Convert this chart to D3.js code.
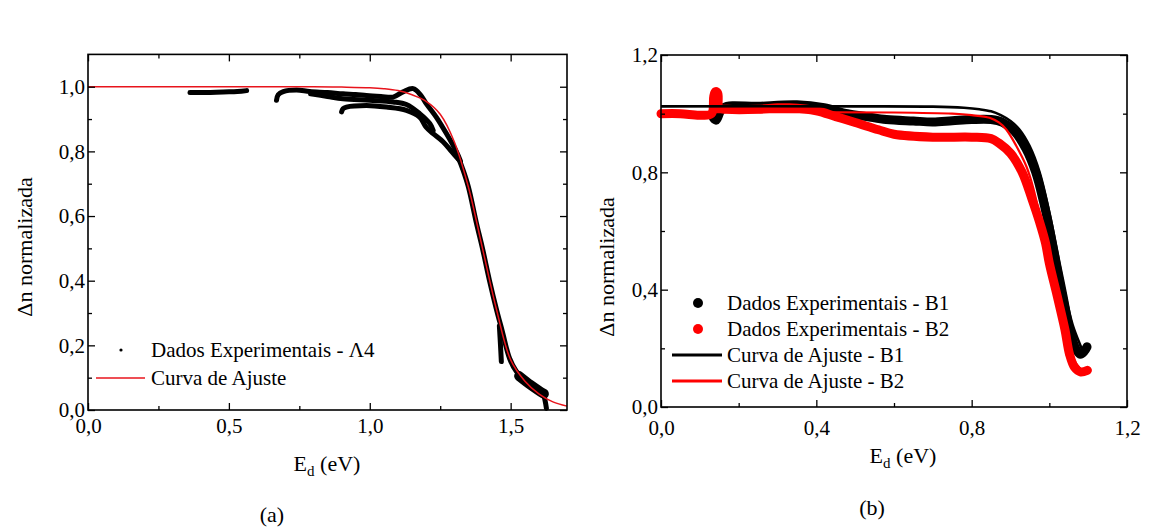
<!DOCTYPE html>
<html>
<head>
<meta charset="utf-8">
<script src="https://cdn.jsdelivr.net/npm/d3@7"></script>
<style>
  body { margin: 0; background: #fff; }
  svg, svg text { font-family: "Times New Roman", "Liberation Serif", Tinos, Times, "DejaVu Serif", "Noto Serif", serif !important; }
</style>
</head>
<body>
<script>
// ---- data, panel (a) ----
var fitA_E = [0, 0.2, 0.4, 0.6, 0.8, 0.9, 1.0, 1.05, 1.1, 1.15, 1.2, 1.25, 1.3, 1.35, 1.4, 1.45, 1.5, 1.55, 1.6, 1.65, 1.7];
var fitA_Y = [1, 1, 1, 1, 1, 0.999, 0.997, 0.994, 0.988, 0.975, 0.955, 0.915, 0.83, 0.69, 0.5, 0.31, 0.155, 0.09, 0.05, 0.025, 0.012];

// experimental A4 sweeps [E, dn]
var a4Flat = [[0.362, 0.982], [0.42, 0.982], [0.48, 0.984], [0.53, 0.985], [0.563, 0.988]];
var a4Upper = [[0.669, 0.958], [0.675, 0.975], [0.693, 0.985], [0.74, 0.99], [0.787, 0.985], [0.85, 0.982], [0.905, 0.978],
  [0.95, 0.976], [0.988, 0.973], [1.04, 0.97], [1.083, 0.968], [1.118, 0.984], [1.154, 0.994], [1.18, 0.975],
  [1.201, 0.947], [1.236, 0.906], [1.272, 0.855], [1.307, 0.8], [1.322, 0.77]];
var a4Middle = [[0.79, 0.978], [0.85, 0.97], [0.905, 0.963], [1.0, 0.958], [1.083, 0.953], [1.13, 0.945], [1.177, 0.917],
  [1.213, 0.886], [1.225, 0.865]];
var a4Lower = [[0.9, 0.922], [0.905, 0.932], [0.917, 0.937], [0.988, 0.942], [1.059, 0.937], [1.13, 0.927], [1.177, 0.906],
  [1.2, 0.875], [1.225, 0.855], [1.26, 0.83], [1.29, 0.8], [1.315, 0.775]];
var a4Drop = [[1.3, 0.8], [1.319, 0.77], [1.33, 0.745], [1.35, 0.69], [1.378, 0.58], [1.4, 0.5], [1.425, 0.4], [1.45, 0.31],
  [1.47, 0.245], [1.496, 0.16], [1.52, 0.12], [1.543, 0.1], [1.57, 0.08], [1.6, 0.062], [1.615, 0.05], [1.622, 0.03], [1.627, 0.005]];
var a4Hook = [[1.46, 0.26], [1.464, 0.2], [1.467, 0.15]];
var a4Tail = [[1.53, 0.105], [1.57, 0.078], [1.6, 0.06], [1.618, 0.05]];

// ---- data, panel (b) ----
var b1Data = [[0.135, 0.985], [0.142, 0.978], [0.16, 1.02], [0.25, 1.025], [0.35, 1.03], [0.42, 1.02], [0.48, 1.0],
  [0.53, 0.99], [0.58, 0.98], [0.65, 0.975], [0.7, 0.972], [0.75, 0.976], [0.8, 0.98], [0.85, 0.98], [0.88, 0.97],
  [0.91, 0.94], [0.94, 0.88], [0.965, 0.8], [0.985, 0.7], [1.0, 0.61], [1.018, 0.49], [1.035, 0.38], [1.052, 0.265],
  [1.069, 0.197], [1.08, 0.18], [1.09, 0.19], [1.097, 0.205]];
var b2Data = [[0.0, 1.0], [0.05, 1.0], [0.1, 0.995], [0.13, 1.0], [0.136, 1.06], [0.14, 1.075], [0.146, 1.07], [0.15, 1.02],
  [0.17, 1.015], [0.25, 1.015], [0.3, 1.02], [0.33, 1.02], [0.4, 1.01], [0.45, 0.99], [0.5, 0.97], [0.56, 0.945],
  [0.6, 0.93], [0.7, 0.92], [0.8, 0.92], [0.85, 0.915], [0.87, 0.9], [0.9, 0.865], [0.93, 0.8], [0.955, 0.71],
  [0.975, 0.63], [0.99, 0.56], [1.0, 0.49], [1.02, 0.38], [1.04, 0.265], [1.052, 0.18], [1.065, 0.135], [1.08, 0.12], [1.098, 0.125]];
var fitB1_E = [0, 0.5, 0.7, 0.78, 0.82, 0.85, 0.875, 0.9, 0.923, 0.949, 0.975, 1.0, 1.02, 1.04, 1.06, 1.08, 1.09];
var fitB1_Y = [1.025, 1.025, 1.024, 1.02, 1.015, 1.008, 0.995, 0.975, 0.946, 0.89, 0.8, 0.663, 0.53, 0.39, 0.28, 0.21, 0.18];
var fitB2_E = [0, 0.6, 0.75, 0.8, 0.846, 0.87, 0.889, 0.915, 0.941, 0.96, 0.98, 1.0, 1.02, 1.04, 1.06, 1.08, 1.09];
var fitB2_Y = [1.005, 1.004, 1.0, 0.995, 0.986, 0.97, 0.946, 0.89, 0.82, 0.74, 0.62, 0.49, 0.37, 0.26, 0.17, 0.13, 0.12];

// tick values
var xTicksA = [0, 0.5, 1.0, 1.5], xMinorA = [0.25, 0.75, 1.25];
var yTicksA = [0, 0.2, 0.4, 0.6, 0.8, 1.0], yMinorA = [0.1, 0.3, 0.5, 0.7, 0.9];
var xTicksB = [0, 0.4, 0.8, 1.2], xMinorB = [0.2, 0.6, 1.0];
var yTicksB = [0, 0.4, 0.8, 1.2], yMinorB = [0.2, 0.6, 1.0];

var W = 1152, H = 529;
var svg = d3.select('body').append('svg').attr('width', W).attr('height', H);
svg.append('rect').attr('width', W).attr('height', H).attr('fill', '#fff');

var fmt = function (d) { return d.toFixed(1).replace('.', ','); };

// draws box, inward ticks on all four sides, labels bottom/left
function frame(x, y, xt, xm, yt, ym, padX, padY) {
  var x0 = x.range()[0], x1 = x.range()[1], y0 = y.range()[0], y1 = y.range()[1];
  var g = svg.append('g');
  var clean = function (s) {
    s.attr('font-family', null).attr('font-size', null);
    s.select('.domain').remove();
    s.selectAll('line').attr('stroke', '#000').attr('stroke-width', 1.3);
  };
  g.append('g').attr('transform', 'translate(0,' + y0 + ')')
    .call(d3.axisBottom(x).tickValues(xt).tickSize(-7).tickPadding(padX).tickFormat(fmt)).call(clean);
  g.append('g').attr('transform', 'translate(0,' + y0 + ')')
    .call(d3.axisBottom(x).tickValues(xm).tickSize(-4).tickFormat('')).call(clean);
  g.append('g').attr('transform', 'translate(0,' + y1 + ')')
    .call(d3.axisTop(x).tickValues(xt).tickSize(-7).tickFormat('')).call(clean);
  g.append('g').attr('transform', 'translate(0,' + y1 + ')')
    .call(d3.axisTop(x).tickValues(xm).tickSize(-4).tickFormat('')).call(clean);
  g.append('g').attr('transform', 'translate(' + x0 + ',0)')
    .call(d3.axisLeft(y).tickValues(yt).tickSize(-7).tickPadding(padY).tickFormat(fmt)).call(clean);
  g.append('g').attr('transform', 'translate(' + x0 + ',0)')
    .call(d3.axisLeft(y).tickValues(ym).tickSize(-4).tickFormat('')).call(clean);
  g.append('g').attr('transform', 'translate(' + x1 + ',0)')
    .call(d3.axisRight(y).tickValues(yt).tickSize(-7).tickFormat('')).call(clean);
  g.append('g').attr('transform', 'translate(' + x1 + ',0)')
    .call(d3.axisRight(y).tickValues(ym).tickSize(-4).tickFormat('')).call(clean);
  g.selectAll('text').attr('font-size', 21).attr('fill', '#000');
  g.append('rect').attr('x', x0).attr('y', y1).attr('width', x1 - x0).attr('height', y0 - y1)
    .attr('fill', 'none').attr('stroke', '#000').attr('stroke-width', 1.6);
}

function xTitle(cx, by) {
  var t = svg.append('text').attr('x', cx).attr('y', by).attr('text-anchor', 'middle').attr('font-size', 22);
  t.append('tspan').text('E');
  t.append('tspan').attr('font-size', 15).attr('dy', 5).text('d');
  t.append('tspan').attr('dy', -5).text(' (eV)');
}
function yTitle(bx, cy) {
  svg.append('text').attr('transform', 'translate(' + bx + ',' + cy + ') rotate(-90)')
    .attr('text-anchor', 'middle').attr('font-size', 22).text('Δn normalizada');
}

// ---------------- panel (a) ----------------
var xA = d3.scaleLinear().domain([0, 1.7]).range([88, 567]);
var yA = d3.scaleLinear().domain([0, 1.1]).range([410, 54.4]);
var lineA = d3.line().x(function (d) { return xA(d[0]); }).y(function (d) { return yA(d[1]); }).curve(d3.curveCatmullRom);

var gA = svg.append('g');
[a4Flat, a4Upper, a4Middle, a4Lower, a4Drop, a4Hook].forEach(function (b) {
  gA.append('path').attr('d', lineA(b)).attr('fill', 'none').attr('stroke', '#000')
    .attr('stroke-width', 5).attr('stroke-linecap', 'round').attr('stroke-linejoin', 'round');
});
gA.append('path').attr('d', lineA(a4Tail)).attr('fill', 'none').attr('stroke', '#000')
  .attr('stroke-width', 10).attr('stroke-linecap', 'round');
gA.append('path').attr('d', lineA(fitA_E.map(function (e, i) { return [e, fitA_Y[i]]; })))
  .attr('fill', 'none').attr('stroke', '#e8141c').attr('stroke-width', 1.5);

frame(xA, yA, xTicksA, xMinorA, yTicksA, yMinorA, 8, 3);
xTitle(327, 471);
yTitle(32, 247);

// legend (a)
svg.append('circle').attr('cx', 121).attr('cy', 350).attr('r', 1.6).attr('fill', '#000');
svg.append('text').attr('x', 151).attr('y', 357).attr('font-size', 21).text('Dados Experimentais - Λ4');
svg.append('line').attr('x1', 96).attr('x2', 145).attr('y1', 378).attr('y2', 378).attr('stroke', '#e8141c').attr('stroke-width', 1.5);
svg.append('text').attr('x', 151).attr('y', 385).attr('font-size', 21).text('Curva de Ajuste');
svg.append('text').attr('x', 272).attr('y', 522).attr('text-anchor', 'middle').attr('font-size', 22).text('(a)');

// ---------------- panel (b) ----------------
var xB = d3.scaleLinear().domain([0, 1.2]).range([661, 1127]);
var yB = d3.scaleLinear().domain([0, 1.2]).range([407, 55]);
var lineB = d3.line().x(function (d) { return xB(d[0]); }).y(function (d) { return yB(d[1]); }).curve(d3.curveCatmullRom);

var gB = svg.append('g');
gB.append('path').attr('d', lineB(b1Data)).attr('fill', 'none').attr('stroke', '#000')
  .attr('stroke-width', 9).attr('stroke-linecap', 'round').attr('stroke-linejoin', 'round');
gB.append('path').attr('d', lineB(b2Data)).attr('fill', 'none').attr('stroke', '#ff0000')
  .attr('stroke-width', 9).attr('stroke-linecap', 'round').attr('stroke-linejoin', 'round');
gB.append('path').attr('d', lineB(fitB1_E.map(function (e, i) { return [e, fitB1_Y[i]]; })))
  .attr('fill', 'none').attr('stroke', '#000').attr('stroke-width', 2.6);
gB.append('path').attr('d', lineB(fitB2_E.map(function (e, i) { return [e, fitB2_Y[i]]; })))
  .attr('fill', 'none').attr('stroke', '#ff0000').attr('stroke-width', 2.2);

frame(xB, yB, xTicksB, xMinorB, yTicksB, yMinorB, 13, 3);
xTitle(903, 463);
yTitle(614, 267);

// legend (b)
var legB = [
  { kind: 'dot', color: '#000', label: 'Dados Experimentais - B1' },
  { kind: 'dot', color: '#ff0000', label: 'Dados Experimentais - B2' },
  { kind: 'line', color: '#000', label: 'Curva de Ajuste - B1' },
  { kind: 'line', color: '#ff0000', label: 'Curva de Ajuste - B2' }
];
legB.forEach(function (d, i) {
  var cy = 303 + i * 26;
  if (d.kind === 'dot') {
    svg.append('circle').attr('cx', 698).attr('cy', cy).attr('r', 5).attr('fill', d.color);
  } else {
    svg.append('line').attr('x1', 672).attr('x2', 722).attr('y1', cy).attr('y2', cy)
      .attr('stroke', d.color).attr('stroke-width', 3);
  }
  svg.append('text').attr('x', 727).attr('y', cy + 7).attr('font-size', 21).text(d.label);
});
svg.append('text').attr('x', 872).attr('y', 515).attr('text-anchor', 'middle').attr('font-size', 22).text('(b)');
</script>
</body>
</html>
